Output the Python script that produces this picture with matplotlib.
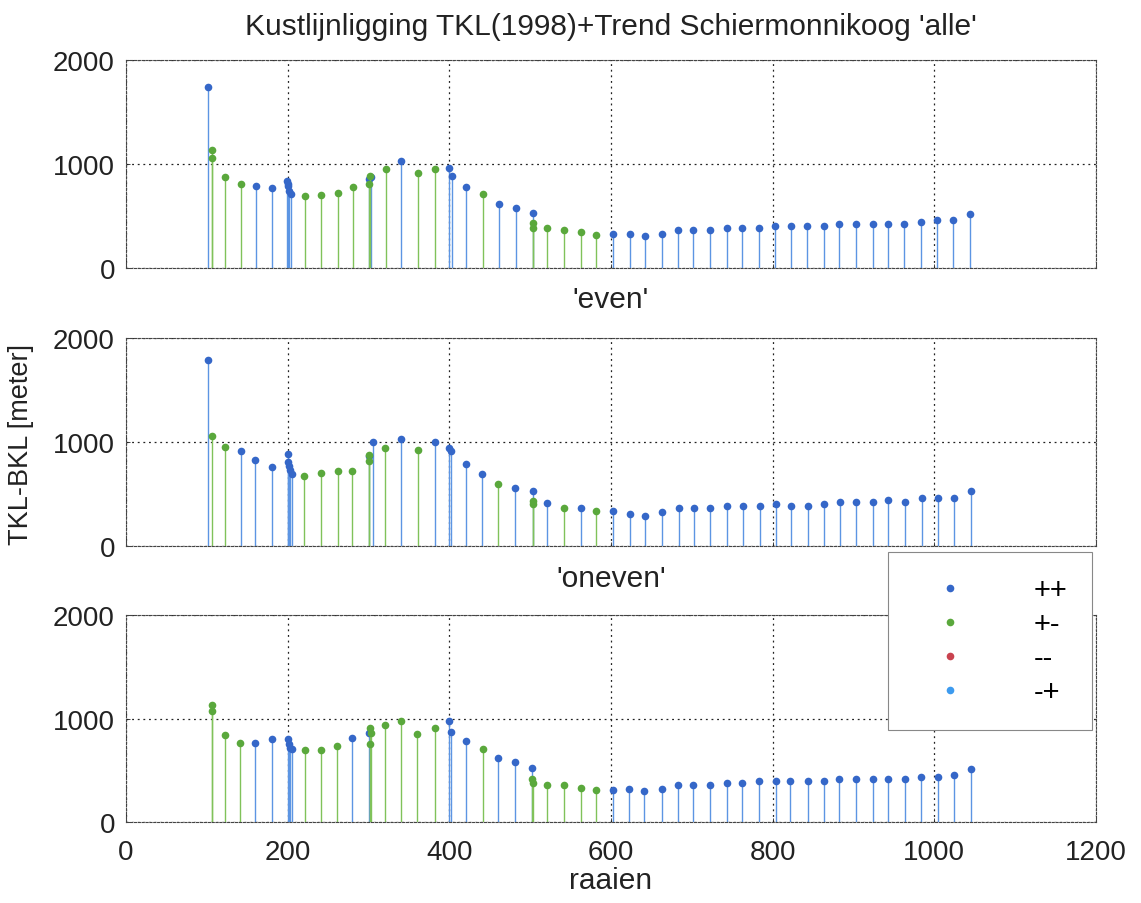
import matplotlib
matplotlib.use("Agg")
import matplotlib.pyplot as plt
from matplotlib.lines import Line2D
import numpy as np

plt.rcParams['font.family'] = ['Liberation Sans', 'DejaVu Sans']

# ---------------- data ----------------
# panel 'alle'
x_alle = [102, 107, 107, 122, 142, 161, 181, 199, 200, 201, 202, 204, 221, 241, 262, 281,
          300, 301, 302, 303, 322, 340, 361, 382, 400, 403, 421, 442, 461, 482,
          503, 503, 504, 521, 542, 563, 581, 602, 623, 642, 663, 683, 702, 722, 743, 762,
          783, 803, 823, 843, 864, 882, 903, 924, 943, 963, 984, 1003, 1023, 1044]
y_alle = [1740, 1130, 1060, 875, 805, 790, 772, 840, 810, 790, 745, 715, 688, 702, 721, 776,
          856, 808, 884, 872, 952, 1026, 917, 952, 958, 882, 779, 708, 619, 580,
          528, 432, 382, 382, 362, 348, 313, 330, 327, 310, 330, 362, 362, 362, 385, 385,
          385, 404, 404, 404, 404, 424, 424, 424, 424, 424, 442, 460, 460, 524]
c_alle = ['++', '+-', '+-', '+-', '+-', '++', '++', '++', '++', '++', '++', '++', '+-', '+-', '+-', '+-',
          '++', '+-', '+-', '++', '+-', '++', '+-', '+-', '++', '++', '++', '+-', '++', '++',
          '++', '+-', '+-', '+-', '+-', '+-', '+-', '++', '++', '++', '++', '++', '++', '++', '++', '++',
          '++', '++', '++', '++', '++', '++', '++', '++', '++', '++', '++', '++', '++', '++']

# panel 'even'
x_even = [102, 107, 122, 142, 160, 181, 200, 201, 202, 203, 205, 220, 241, 262, 280,
          300, 301, 301, 305, 321, 340, 361, 382, 400, 402, 421, 441, 460, 481,
          503, 503, 504, 521, 542, 563, 581, 603, 624, 642, 663, 684, 703, 723, 744, 763,
          784, 804, 823, 844, 864, 883, 903, 924, 943, 964, 985, 1004, 1024, 1045]
y_even = [1785, 1061, 952, 916, 830, 756, 885, 810, 765, 730, 695, 669, 704, 723, 723,
          868, 871, 813, 997, 942, 1032, 923, 1000, 945, 910, 785, 695, 595, 558,
          525, 435, 403, 418, 365, 365, 332, 332, 310, 292, 330, 365, 365, 365, 385, 385,
          385, 402, 385, 385, 402, 422, 422, 422, 440, 422, 458, 458, 458, 530]
c_even = ['++', '+-', '+-', '++', '++', '++', '++', '++', '++', '++', '++', '+-', '+-', '+-', '+-',
          '++', '+-', '+-', '++', '+-', '++', '+-', '++', '++', '++', '++', '++', '+-', '++',
          '++', '+-', '+-', '++', '+-', '++', '+-', '++', '++', '++', '++', '++', '++', '++', '++', '++',
          '++', '++', '++', '++', '++', '++', '++', '++', '++', '++', '++', '++', '++', '++']

# panel 'oneven'
x_oneven = [107, 107, 122, 141, 160, 181, 201, 202, 203, 205, 221, 241, 261, 280,
            300, 302, 303, 302, 321, 340, 360, 382, 400, 402, 421, 442, 460, 481,
            502, 502, 503, 521, 542, 563, 581, 602, 622, 641, 663, 683, 701, 723, 743, 762,
            783, 804, 822, 844, 864, 882, 903, 924, 943, 964, 984, 1004, 1024, 1045]
y_oneven = [1129, 1071, 838, 767, 767, 806, 806, 757, 715, 702, 699, 699, 738, 809,
            861, 909, 861, 757, 938, 974, 848, 906, 977, 867, 780, 709, 618, 575,
            522, 412, 378, 360, 360, 325, 308, 308, 316, 300, 316, 358, 358, 358, 377, 377,
            394, 394, 394, 394, 394, 413, 413, 413, 413, 413, 435, 435, 455, 513]
c_oneven = ['+-', '+-', '+-', '+-', '++', '++', '++', '++', '++', '++', '+-', '+-', '+-', '++',
            '++', '+-', '+-', '+-', '+-', '+-', '+-', '+-', '++', '++', '++', '+-', '++', '++',
            '++', '+-', '+-', '+-', '+-', '+-', '+-', '++', '++', '++', '++', '++', '++', '++', '++', '++',
            '++', '++', '++', '++', '++', '++', '++', '++', '++', '++', '++', '++', '++', '++']

panel_titles = ["Kustlijnligging TKL(1998)+Trend Schiermonnikoog 'alle'", "'even'", "'oneven'"]
classes = ['++', '+-', '--', '-+']
x_ticks = [0, 200, 400, 600, 800, 1000, 1200]
y_ticks = [0, 1000, 2000]

# ---------------- style ----------------
marker_col = {'++': '#3567c8', '+-': '#5aa83c', '--': '#c9434f', '-+': '#3d9bef'}
stem_col = {'++': '#5c95e3', '+-': '#80c25a', '--': '#d77a80', '-+': '#6fb4f2'}

fig = plt.figure(figsize=(11.41, 9.04), dpi=100)
left, right = 126 / 1141, 1096 / 1141
panels_px = [(61, 269), (339, 547), (616, 823)]
datasets = [(x_alle, y_alle, c_alle), (x_even, y_even, c_even), (x_oneven, y_oneven, c_oneven)]

axes = []
for i, ((top, bot), (xs, ys, cs)) in enumerate(zip(panels_px, datasets)):
    ax = fig.add_axes([left, 1 - bot / 904, right - left, (bot - top) / 904])
    xs = np.array(xs); ys = np.array(ys); cs = np.array(cs)
    for c in classes:
        m = cs == c
        if not m.any():
            continue
        ml, sl, bl = ax.stem(xs[m], ys[m], linefmt='-', markerfmt='o', basefmt=' ')
        plt.setp(sl, color=stem_col[c], linewidth=1.0)
        plt.setp(ml, color=marker_col[c], markersize=5.5, markeredgewidth=0)
        bl.set_visible(False)
    ax.set_xlim(0, 1200)
    ax.set_ylim(0, 2000)
    ax.set_xticks(x_ticks)
    ax.set_yticks(y_ticks)
    ax.grid(True, linestyle=(0, (1.5, 3)), color='#222222', linewidth=0.9)
    ax.set_axisbelow(True)
    for sp in ax.spines.values():
        sp.set_linestyle((0, (2, 1.5)))
        sp.set_color('#444444')
        sp.set_linewidth(0.8)
    ax.tick_params(direction='in', length=3, width=0.6, labelsize=20, colors='#222222', pad=8)
    ax.tick_params(axis='x', pad=12)
    if i < 2:
        ax.tick_params(labelbottom=False)
    axes.append(ax)

axes[0].set_title(panel_titles[0], fontsize=21.5, pad=19, color='#222222')
axes[1].set_title(panel_titles[1], fontsize=21.5, pad=22, color='#222222')
axes[2].set_title(panel_titles[2], fontsize=21.5, pad=21, color='#222222')
axes[2].set_xlabel('raaien', fontsize=21.5, color='#222222', labelpad=1)
fig.text(0.018, 0.508, 'TKL-BKL [meter]', rotation=90, fontsize=19.5, color='#222222',
         ha='center', va='center')

handles = [Line2D([], [], linestyle='none', marker='o', markersize=5.5,
                  markeredgewidth=0, color=marker_col[c]) for c in classes]
leg = fig.legend(handles, classes, loc='upper left', bbox_to_anchor=(888 / 1141, 1 - 553 / 904),
                 fontsize=21, frameon=True, fancybox=False, framealpha=1,
                 edgecolor='#888888', borderpad=0.83, handlelength=2.62, handletextpad=1.55,
                 labelspacing=0.2, borderaxespad=0)
leg.get_frame().set_linewidth(0.8)

fig.savefig('out.png', dpi=100)
